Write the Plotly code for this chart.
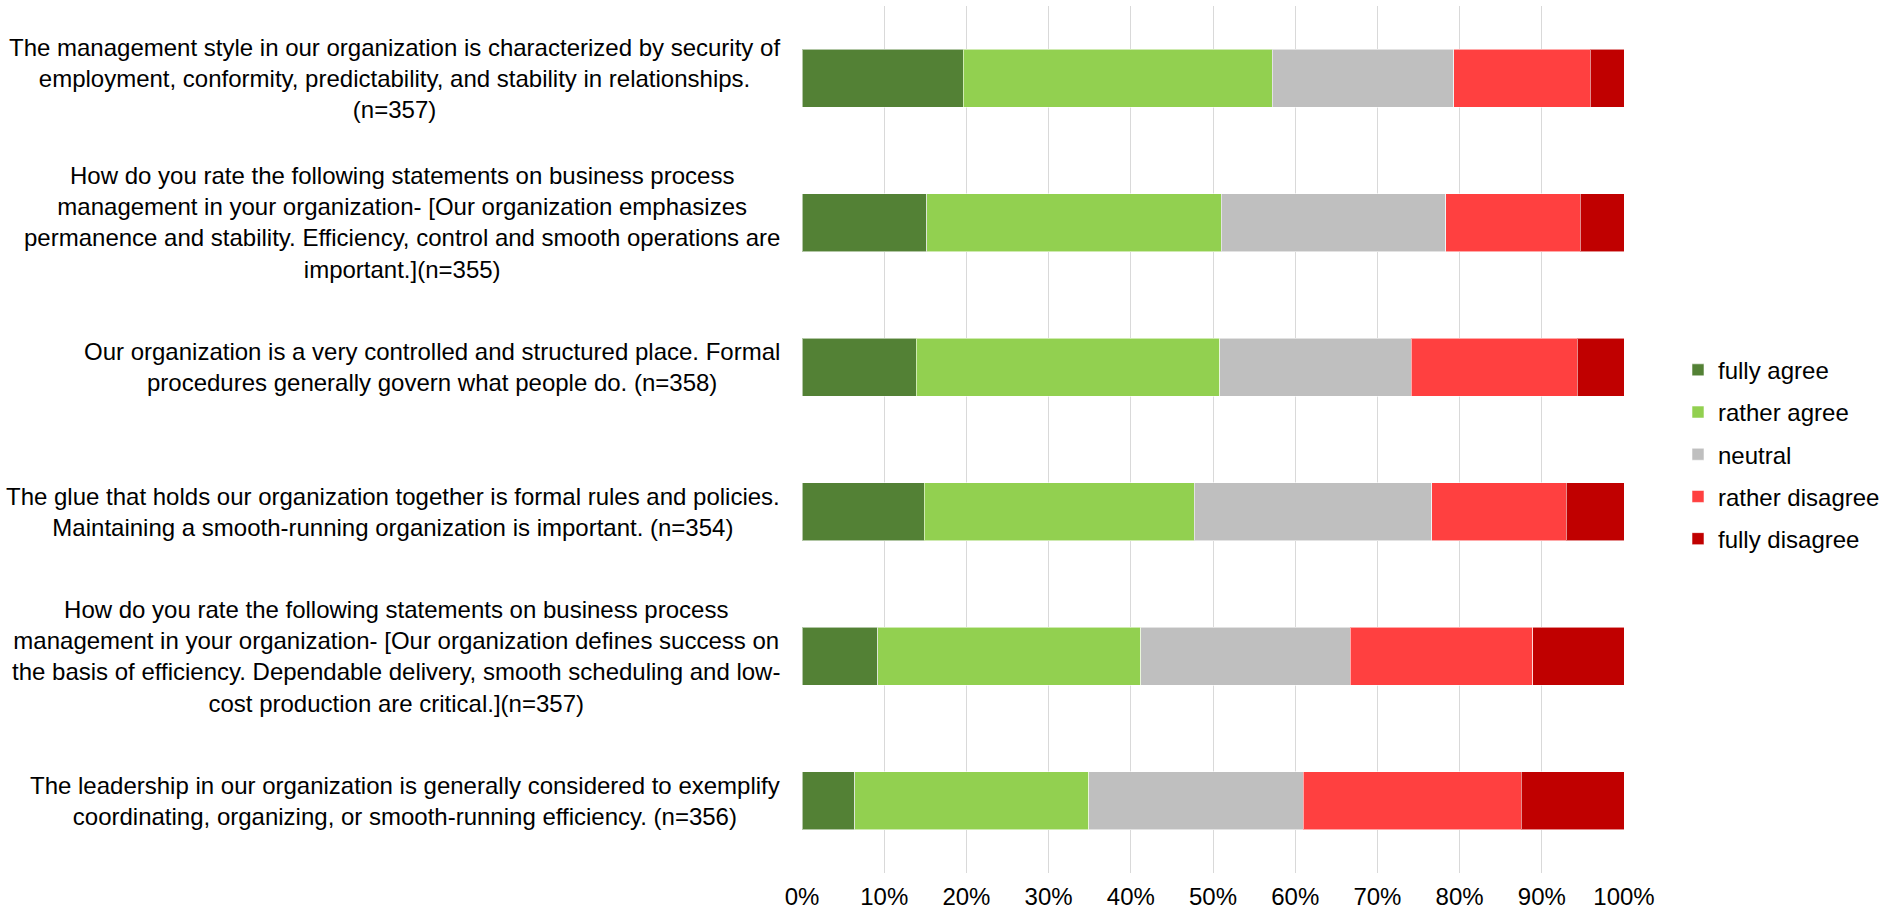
import plotly.graph_objects as go

# Survey statements (top to bottom), with line breaks for the left-hand labels
statements = [
    "The management style in our organization is characterized by security of<br>"
    "employment, conformity, predictability, and stability in relationships.<br>(n=357)",
    "How do you rate the following statements on business process<br>"
    "management in your organization- [Our organization emphasizes<br>"
    "permanence and stability. Efficiency, control and smooth operations are<br>"
    "important.](n=355)",
    "Our organization is a very controlled and structured place. Formal<br>"
    "procedures generally govern what people do. (n=358)",
    "The glue that holds our organization together is formal rules and policies.<br>"
    "Maintaining a smooth-running organization is important. (n=354)",
    "How do you rate the following statements on business process<br>"
    "management in your organization- [Our organization defines success on<br>"
    "the basis of efficiency. Dependable delivery, smooth scheduling and low-<br>"
    "cost production are critical.](n=357)",
    "The leadership in our organization is generally considered to exemplify<br>"
    "coordinating, organizing, or smooth-running efficiency. (n=356)",
]

# Share of answers per statement, in percent
fully_agree = [19.6, 15.2, 13.9, 14.9, 9.2, 6.4]
rather_agree = [37.6, 35.8, 36.9, 32.8, 32.0, 28.5]
neutral = [22.1, 27.3, 23.3, 28.9, 25.5, 26.1]
rather_disagree = [16.6, 16.4, 20.2, 16.4, 22.2, 26.5]
fully_disagree = [4.1, 5.3, 5.7, 7.0, 11.1, 12.5]

answer_names = ["fully agree", "rather agree", "neutral", "rather disagree", "fully disagree"]
answer_values = [fully_agree, rather_agree, neutral, rather_disagree, fully_disagree]
answer_colors = ["#538135", "#92D050", "#BFBFBF", "#FF4040", "#C00000"]

tick_values = [0, 10, 20, 30, 40, 50, 60, 70, 80, 90, 100]
tick_labels = ["0%", "10%", "20%", "30%", "40%", "50%", "60%", "70%", "80%", "90%", "100%"]

FONT = "Liberation Sans, Arial, sans-serif"

fig = go.Figure()
for name, vals, color in zip(answer_names, answer_values, answer_colors):
    fig.add_trace(go.Bar(
        y=statements,
        x=vals,
        name=name,
        orientation="h",
        legendgroup=name,
        marker=dict(color=color, line=dict(color="rgba(255,255,255,0.55)", width=1)),
        hovertemplate="%{x:.1f}%<extra>" + name + "</extra>",
    ))

# Centered multi-line statement labels to the left of the bars
for s in statements:
    fig.add_annotation(
        x=0, xref="paper", y=s, yref="y",
        text=s, showarrow=False,
        xanchor="right", yanchor="middle", align="center",
        xshift=-20,
        font=dict(family=FONT, size=24, color="#000000"),
    )

fig.update_layout(
    width=1883, height=923,
    barmode="stack",
    bargap=0.6,
    plot_bgcolor="white",
    paper_bgcolor="white",
    margin=dict(l=802, r=259, t=6, b=50, autoexpand=False),
    font=dict(family=FONT, size=24, color="#000000"),
    legend=dict(
        x=1.0657, xanchor="left",
        y=0.483, yanchor="middle",
        traceorder="grouped",
        tracegroupgap=8,
        font=dict(family=FONT, size=24, color="#000000"),
        bgcolor="rgba(0,0,0,0)",
    ),
    showlegend=True,
)

fig.update_xaxes(
    range=[0, 100],
    tickvals=tick_values,
    ticktext=tick_labels,
    showgrid=True,
    gridcolor="#D9D9D9",
    gridwidth=1.3,
    zeroline=False,
    showline=False,
    ticks="",
    ticklabelstandoff=7,
    tickfont=dict(family=FONT, size=24, color="#000000"),
)
fig.update_yaxes(
    categoryorder="array",
    categoryarray=statements,
    autorange="reversed",
    showticklabels=False,
    showgrid=False,
    zeroline=False,
    showline=False,
    ticks="",
)

fig.write_html("out.html")
